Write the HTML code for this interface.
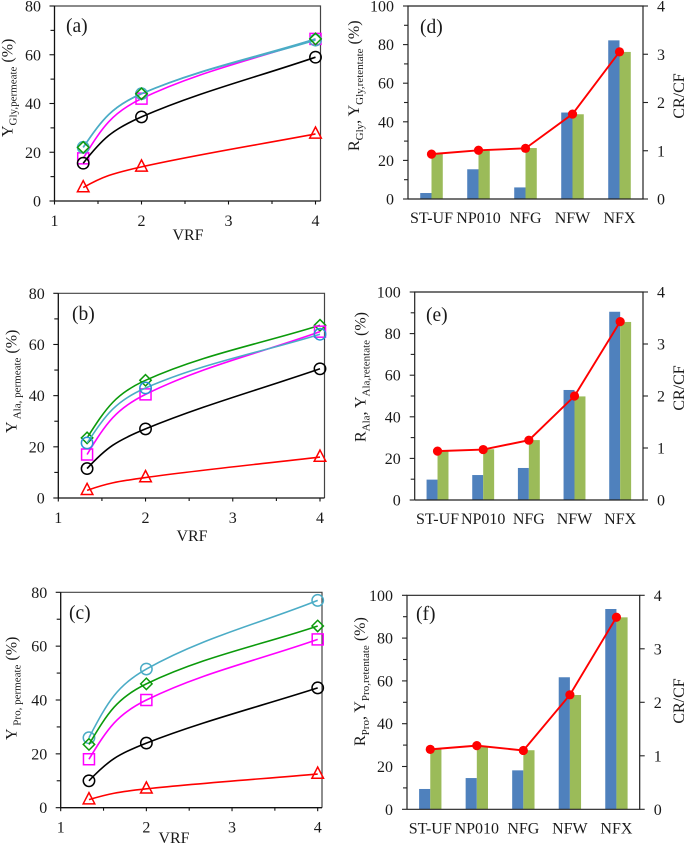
<!DOCTYPE html>
<html lang="en">
<head>
<meta charset="utf-8">
<title>Yields and rejections versus VRF and membrane</title>
<style>
html,body{margin:0;padding:0;background:#fff;}
svg{display:block;}
text{font-family:"Liberation Serif",serif;fill:#1a1a1a;font-size:16px;}
.sub{font-size:11px;}
.plabel{font-size:19.5px;}
.title{font-size:16px;}
</style>
</head>
<body>
<svg id="figure" width="685" height="845" viewBox="0 0 685 845" xmlns="http://www.w3.org/2000/svg">
  <g id="marks"></g>

  <text class="plabel" x="66" y="32">(a)</text>
  <text class="plabel" x="72" y="320">(b)</text>
  <text class="plabel" x="69" y="619">(c)</text>
  <text class="plabel" x="420" y="33">(d)</text>
  <text class="plabel" x="426" y="321">(e)</text>
  <text class="plabel" x="416" y="620">(f)</text>

  <text class="title" x="188" y="240" text-anchor="middle">VRF</text>
  <text class="title" x="192" y="541" text-anchor="middle">VRF</text>
  <text class="title" x="174" y="843" text-anchor="middle">VRF</text>

  <text class="title" transform="translate(12.5,137) rotate(-90)">Y<tspan class="sub" dy="4">Gly,permeate</tspan><tspan dy="-4"> (%)</tspan></text>
  <text class="title" transform="translate(16.5,433) rotate(-90)">Y<tspan class="sub" dy="4"> Ala, permeate</tspan><tspan dy="-4"> (%)</tspan></text>
  <text class="title" transform="translate(16.5,740) rotate(-90)">Y<tspan class="sub" dy="4"> Pro, permeate</tspan><tspan dy="-4"> (%)</tspan></text>

  <text class="title" transform="translate(359,151) rotate(-90)">R<tspan class="sub" dy="4">Gly</tspan><tspan dy="-4">, Y</tspan><tspan class="sub" dy="4">Gly,retentate</tspan><tspan dy="-4"> (%)</tspan></text>
  <text class="title" transform="translate(365.5,442) rotate(-90)">R<tspan class="sub" dy="4">Ala</tspan><tspan dy="-4">, Y</tspan><tspan class="sub" dy="4">Ala,retentate</tspan><tspan dy="-4"> (%)</tspan></text>
  <text class="title" transform="translate(365,746) rotate(-90)">R<tspan class="sub" dy="4">Pro</tspan><tspan dy="-4">, Y</tspan><tspan class="sub" dy="4">Pro,retentate</tspan><tspan dy="-4"> (%)</tspan></text>

  <text class="title" transform="translate(684,96) rotate(-90)" text-anchor="middle">CR/CF</text>
  <text class="title" transform="translate(684,388) rotate(-90)" text-anchor="middle">CR/CF</text>
  <text class="title" transform="translate(684,701) rotate(-90)" text-anchor="middle">CR/CF</text>
</svg>

<script>
// ---- Data: line panels ----
const vrf = [1.33, 2, 4];
const xTickLabels = [1, 2, 3, 4];
const yTickLabelsLine = [0, 20, 40, 60, 80];

const aTeal = [22, 44, 66];
const aGreen = [22, 44, 66.5];
const aMagenta = [17.5, 42, 66.5];
const aBlack = [15.5, 34.5, 59];
const aRed = [5.5, 14, 27.5];

const bTeal = [21.5, 43, 64];
const bGreen = [23.5, 46, 67.5];
const bMagenta = [17, 40.5, 65];
const bBlack = [11.5, 27, 50.5];
const bRed = [3, 8, 16];

const cTeal = [26, 51.5, 77];
const cGreen = [23.5, 46, 67.5];
const cMagenta = [18, 40, 62.5];
const cBlack = [10, 24, 44.5];
const cRed = [3, 7, 12.5];

// ---- Data: bar panels ----
const membranes = ['ST-UF', 'NP010', 'NFG', 'NFW', 'NFX'];
const yTickLabelsBar = [0, 20, 40, 60, 80, 100];
const rightTickLabels = [0, 1, 2, 3, 4];

const dRejection = [3.1, 15.4, 6, 44.8, 82.2];
const dRetentate = [23.5, 25, 26.4, 43.9, 76.2];
const dRatio = [0.93, 1.01, 1.05, 1.76, 3.05];

const eRejection = [9.8, 12, 15.4, 52.9, 90.5];
const eRetentate = [23.4, 24.4, 28.8, 49.8, 85.6];
const eRatio = [0.94, 0.97, 1.15, 2.0, 3.43];

const fRejection = [9.5, 14.6, 18.2, 61.7, 93.6];
const fRetentate = [28.2, 29.3, 27.6, 53.4, 89.7];
const fRatio = [1.12, 1.19, 1.10, 2.14, 3.59];

// ---- Rendering ----
const NS = 'http://www.w3.org/2000/svg';
const root = document.getElementById('marks');

function make(tag, attrs, parent) {
  const el = document.createElementNS(NS, tag);
  for (const k in attrs) el.setAttribute(k, attrs[k]);
  (parent || root).appendChild(el);
  return el;
}
function tickText(str, x, y, anchor, name, parent) {
  const el = make('text', {x: x, y: y, 'text-anchor': anchor}, parent);
  el.textContent = str;
  
  
  return el;
}
// Spline through the points: moderate start, long handle into the knee, gentle finish.
function smoothPath(p) {
  const n = p.length;
  const chord = [];
  for (let i = 0; i < n - 1; i++) chord.push((p[i + 1][1] - p[i][1]) / (p[i + 1][0] - p[i][0]));
  const slope = p.map((_, i) => {
    if (i === 0) return 1.6 * chord[0];
    if (i === n - 1) return chord[n - 2];
    return chord[i] + 0.2 * (chord[i - 1] - chord[i]);
  });
  let d = 'M' + p[0][0].toFixed(2) + ' ' + p[0][1].toFixed(2);
  for (let i = 0; i < n - 1; i++) {
    const L = (p[i + 1][0] - p[i][0]) / 3;
    const L2 = i === 0 ? L * 1.5 : L;
    d += ' C' + (p[i][0] + L).toFixed(2) + ' ' + (p[i][1] + slope[i] * L).toFixed(2) +
         ' ' + (p[i + 1][0] - L2).toFixed(2) + ' ' + (p[i + 1][1] - slope[i + 1] * L2).toFixed(2) +
         ' ' + p[i + 1][0].toFixed(2) + ' ' + p[i + 1][1].toFixed(2);
  }
  return d;
}
function drawMarker(kind, x, y, color, name, parent) {
  let el;
  const st = {fill: 'none', stroke: color, 'stroke-width': 1.5};
  if (kind === 'circle') {
    el = make('circle', Object.assign({cx: x, cy: y, r: 5.7}, st), parent);
  } else if (kind === 'square') {
    el = make('rect', Object.assign({x: x - 5.5, y: y - 5.5, width: 11, height: 11}, st), parent);
  } else if (kind === 'diamond') {
    el = make('polygon', Object.assign({points: [[x, y - 5.7], [x + 5.7, y], [x, y + 5.7], [x - 5.7, y]].join(' ')}, st), parent);
  } else {
    el = make('polygon', Object.assign({points: [[x, y - 7], [x + 5.8, y + 4.2], [x - 5.8, y + 4.2]].join(' ')}, st), parent);
  }
  
  
}

function linePanel(id, box, xAt4, series) {
  const g = make('g', {});
  
  
  const unit = (xAt4 - box.l) / 3;
  const sx = v => box.l + (v - 1) * unit;
  const sy = v => box.b - v / 80 * (box.b - box.t);

  const frame = make('path', {d: 'M' + box.l + ' ' + box.t + 'H' + box.r + 'V' + box.b, fill: 'none', stroke: '#444', 'stroke-width': 1.2}, g);
  
  
  const axes = make('path', {d: 'M' + box.l + ' ' + box.t + 'V' + box.b + 'H' + box.r, fill: 'none', stroke: '#111', 'stroke-width': 1.3}, g);
  
  

  yTickLabelsLine.forEach(v => {
    make('line', {x1: box.l - 5, x2: box.l, y1: sy(v), y2: sy(v), stroke: '#111', 'stroke-width': 1.1}, g);
    tickText(String(v), box.l - 13.5, sy(v) + 5.5, 'end', 'y-tick-' + id + '-' + v, g);
    if (v < 80) make('line', {x1: box.l - 4, x2: box.l, y1: sy(v + 10), y2: sy(v + 10), stroke: '#111', 'stroke-width': 1.1}, g);
  });
  xTickLabels.forEach(v => {
    make('line', {x1: sx(v), x2: sx(v), y1: box.b, y2: box.b + 3.5, stroke: '#111', 'stroke-width': 1.1}, g);
    tickText(String(v), sx(v), box.b + 25, 'middle', 'x-tick-' + id + '-' + v, g);
    if (v < 4) make('line', {x1: sx(v + 0.5), x2: sx(v + 0.5), y1: box.b, y2: box.b + 3, stroke: '#111', 'stroke-width': 1.1}, g);
  });

  series.forEach(s => {
    const pts = vrf.map((v, i) => [sx(v), sy(s.values[i])]);
    const path = make('path', {d: smoothPath(pts), fill: 'none', stroke: s.line, 'stroke-width': s.w || 1.6}, g);
    
    
    pts.forEach((p, i) => drawMarker(s.kind, p[0], p[1], s.color, 'point-' + id + '-' + s.name + '-' + i, g));
  });
}

function barPanel(id, box, rejection, retentate, ratio) {
  const g = make('g', {});
  
  
  const step = (box.r - box.l) / membranes.length;
  const bw = step * 0.24;
  const cx = i => box.l + step * (i + 0.5);
  const sy = v => box.b - v / 100 * (box.b - box.t);
  const sr = v => box.b - v / 4 * (box.b - box.t);

  membranes.forEach((m, i) => {
    const a = make('rect', {x: cx(i) - bw, y: sy(rejection[i]), width: bw, height: box.b - sy(rejection[i]), fill: '#4f81bd'}, g);
    
    
    const b = make('rect', {x: cx(i), y: sy(retentate[i]), width: bw, height: box.b - sy(retentate[i]), fill: '#9bbb59'}, g);
    
    
    tickText(m, cx(i), box.b + 24, 'middle', 'category-label-' + id + '-' + m.toLowerCase(), g);
  });

  const axes = make('path', {d: 'M' + box.l + ' ' + box.b + 'V' + box.t + 'H' + box.r + 'V' + box.b + 'H' + box.l, fill: 'none', stroke: '#222', 'stroke-width': 1.2}, g);
  
  

  yTickLabelsBar.forEach(v => {
    make('line', {x1: box.l - 5, x2: box.l, y1: sy(v), y2: sy(v), stroke: '#222', 'stroke-width': 1.1}, g);
    tickText(String(v), box.l - 14, sy(v) + 5.5, 'end', 'y-tick-' + id + '-' + v, g);
    if (v < 100) make('line', {x1: box.l - 4, x2: box.l, y1: sy(v + 10), y2: sy(v + 10), stroke: '#222', 'stroke-width': 1.1}, g);
  });
  rightTickLabels.forEach(v => {
    make('line', {x1: box.r, x2: box.r + 5, y1: sr(v), y2: sr(v), stroke: '#222', 'stroke-width': 1.1}, g);
    tickText(String(v), box.r + 14, sr(v) + 5.5, 'start', 'right-tick-' + id + '-' + v, g);
  });

  const pts = ratio.map((v, i) => [cx(i), sr(v)]);
  const line = make('polyline', {points: pts.map(p => p.join(',')).join(' '), fill: 'none', stroke: '#ff0000', 'stroke-width': 1.9}, g);
  
  
  pts.forEach((p, i) => {
    const dot = make('circle', {cx: p[0], cy: p[1], r: 4.6, fill: '#ff0000'}, g);
    
    
  });
}

const TEAL = '#4bacc6', GREEN = '#0b9a0b', MAG = '#ff00ff', BLK = '#000000', RED = '#ff0000', BLUE = '#2b93d4';

linePanel('a', {l: 54.5, r: 320.5, t: 6, b: 201}, 315.5, [
  {name: 'magenta', values: aMagenta, line: MAG, color: MAG, kind: 'square'},
  {name: 'black', values: aBlack, line: BLK, color: BLK, kind: 'circle'},
  {name: 'red', values: aRed, line: RED, color: RED, kind: 'triangle'},
  {name: 'teal', values: aTeal, line: TEAL, color: TEAL, kind: 'circle'},
  {name: 'green', values: aGreen, line: TEAL, color: GREEN, kind: 'diamond'}
]);
linePanel('b', {l: 58.3, r: 324.5, t: 293.3, b: 498}, 320, [
  {name: 'green', values: bGreen, line: GREEN, color: GREEN, kind: 'diamond'},
  {name: 'magenta', values: bMagenta, line: MAG, color: MAG, kind: 'square'},
  {name: 'teal', values: bTeal, line: TEAL, color: BLUE, kind: 'circle'},
  {name: 'black', values: bBlack, line: BLK, color: BLK, kind: 'circle'},
  {name: 'red', values: bRed, line: RED, color: RED, kind: 'triangle'}
]);
linePanel('c', {l: 60.7, r: 322, t: 592.3, b: 807.7}, 317.7, [
  {name: 'teal', values: cTeal, line: TEAL, color: TEAL, kind: 'circle'},
  {name: 'green', values: cGreen, line: GREEN, color: GREEN, kind: 'diamond'},
  {name: 'magenta', values: cMagenta, line: MAG, color: MAG, kind: 'square'},
  {name: 'black', values: cBlack, line: BLK, color: BLK, kind: 'circle'},
  {name: 'red', values: cRed, line: RED, color: RED, kind: 'triangle'}
]);

barPanel('d', {l: 408, r: 643, t: 6, b: 199}, dRejection, dRetentate, dRatio);
barPanel('e', {l: 414.7, r: 643, t: 292, b: 500}, eRejection, eRetentate, eRatio);
barPanel('f', {l: 407, r: 639.7, t: 595.3, b: 809.3}, fRejection, fRetentate, fRatio);
</script>
</body>
</html>
